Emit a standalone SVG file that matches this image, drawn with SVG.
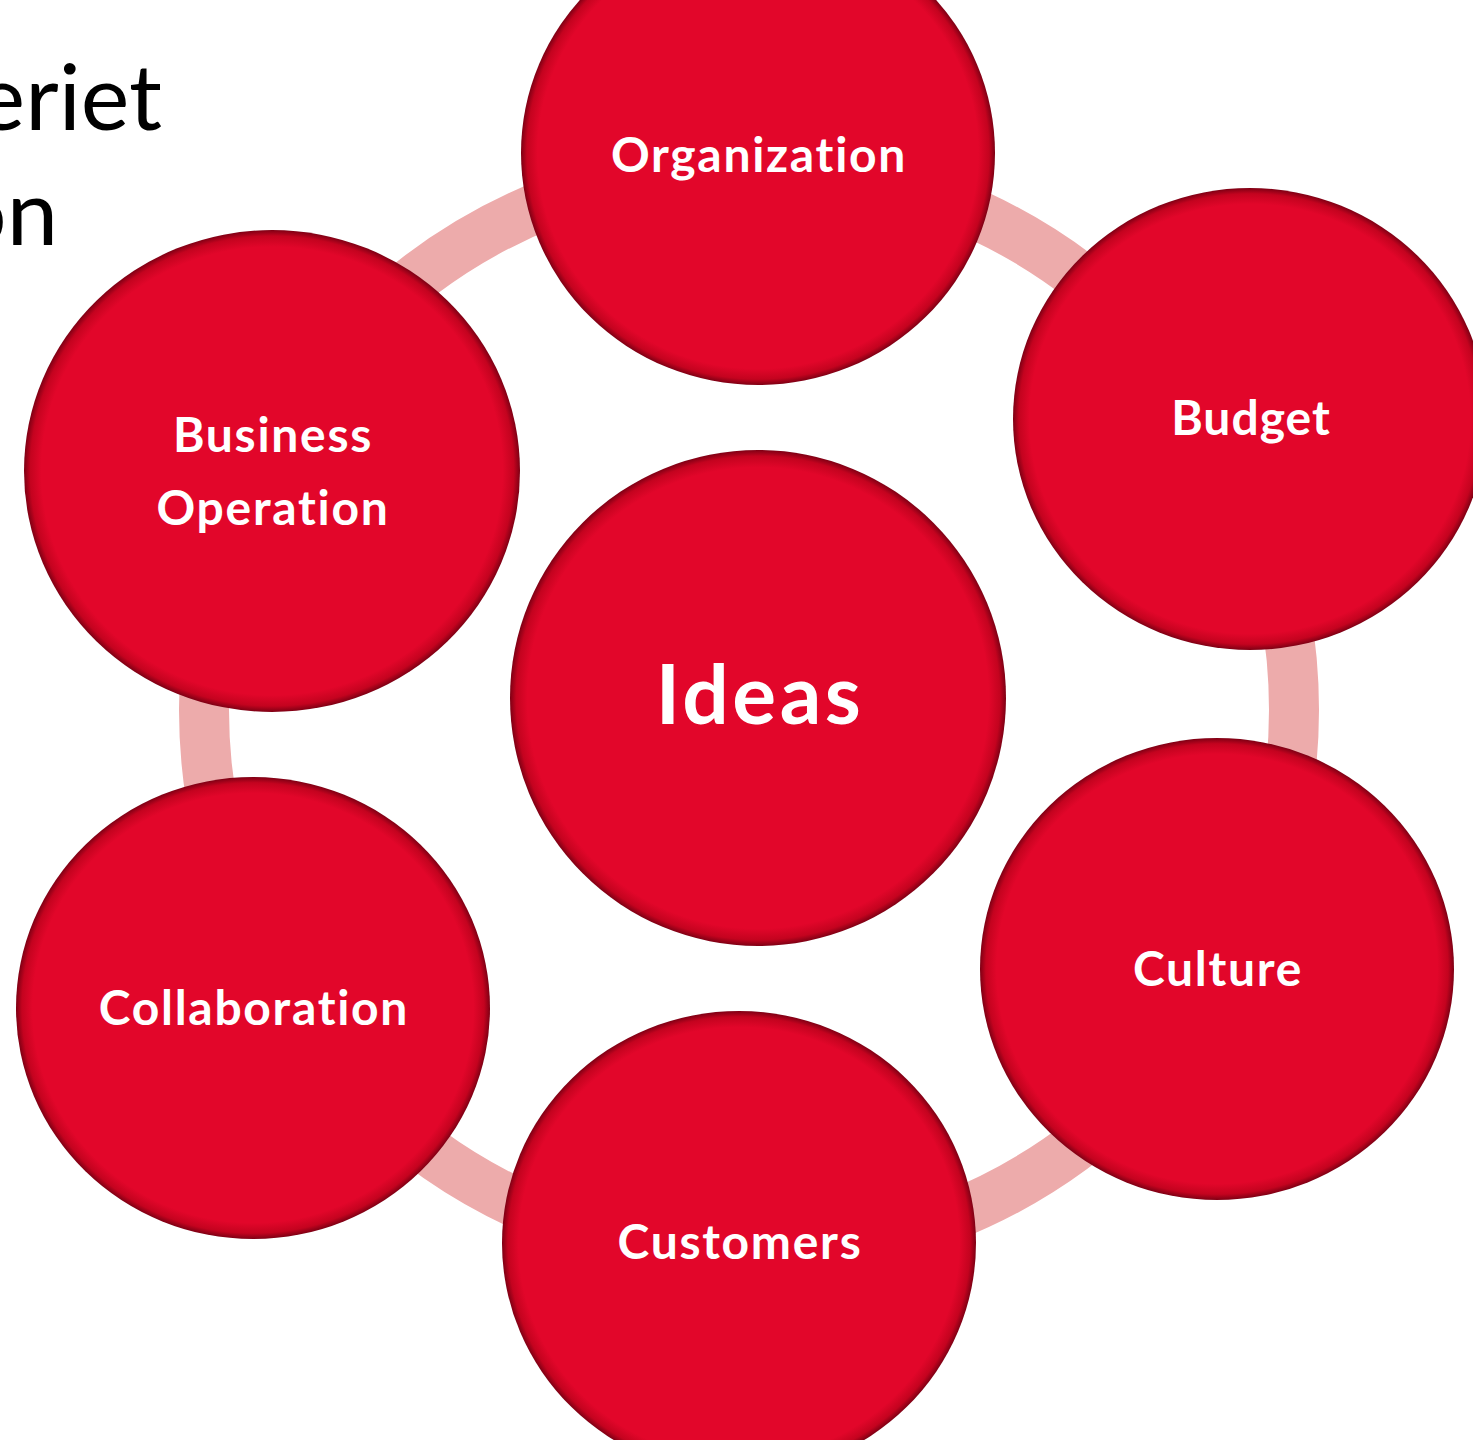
<svg xmlns="http://www.w3.org/2000/svg" width="1473" height="1440" viewBox="0 0 1473 1440">
<style>
.node{fill:url(#g);}
.lbl{font-family:Lato,"Open Sans","Liberation Sans",sans-serif;font-weight:bold;fill:#fff;text-anchor:middle;font-size:48px;letter-spacing:1.7px;font-variant-ligatures:none;}
.title{font-family:Lato,"Open Sans","Liberation Sans",sans-serif;fill:#000;text-anchor:end;font-size:92px;font-variant-ligatures:none;}
</style>
<defs>
<radialGradient id="g" cx="0.5" cy="0.5" r="0.5">
<stop offset="0" stop-color="#E2062A"/>
<stop offset="0.93" stop-color="#E2062A"/>
<stop offset="0.975" stop-color="#C4031F"/>
<stop offset="1" stop-color="#7E0014"/>
</radialGradient>
</defs>
<rect width="1473" height="1440" fill="#fff"/>
<text class="title" x="162" y="130">eriet</text>
<text class="title" x="58" y="245">on</text>
<g id="connectors">
<circle cx="749" cy="710" r="545" fill="none" stroke="#EDABAB" stroke-width="50"/>
</g>
<g id="organization"><ellipse class="node" cx="758" cy="153" rx="237" ry="232"/><text class="lbl" x="759" y="172">Organization</text></g>
<g id="budget"><ellipse class="node" cx="1250" cy="419" rx="237" ry="231"/><text class="lbl" x="1251" y="435" style="letter-spacing:1px">Budget</text></g>
<g id="culture"><ellipse class="node" cx="1217" cy="969" rx="237" ry="231"/><text class="lbl" x="1218" y="986">Culture</text></g>
<g id="customers"><ellipse class="node" cx="739" cy="1243" rx="237" ry="232"/><text class="lbl" x="740" y="1259">Customers</text></g>
<g id="collaboration"><ellipse class="node" cx="253" cy="1008" rx="237" ry="231"/><text class="lbl" x="254" y="1025">Collaboration</text></g>
<g id="business-operation"><ellipse class="node" cx="272" cy="471" rx="248" ry="241"/><text class="lbl" x="273" y="452">Business</text><text class="lbl" x="273" y="525">Operation</text></g>
<g id="ideas"><circle class="node" cx="758" cy="698" r="248"/><text class="lbl" x="760" y="724" style="font-size:82px;letter-spacing:3.5px">Ideas</text></g>
</svg>
